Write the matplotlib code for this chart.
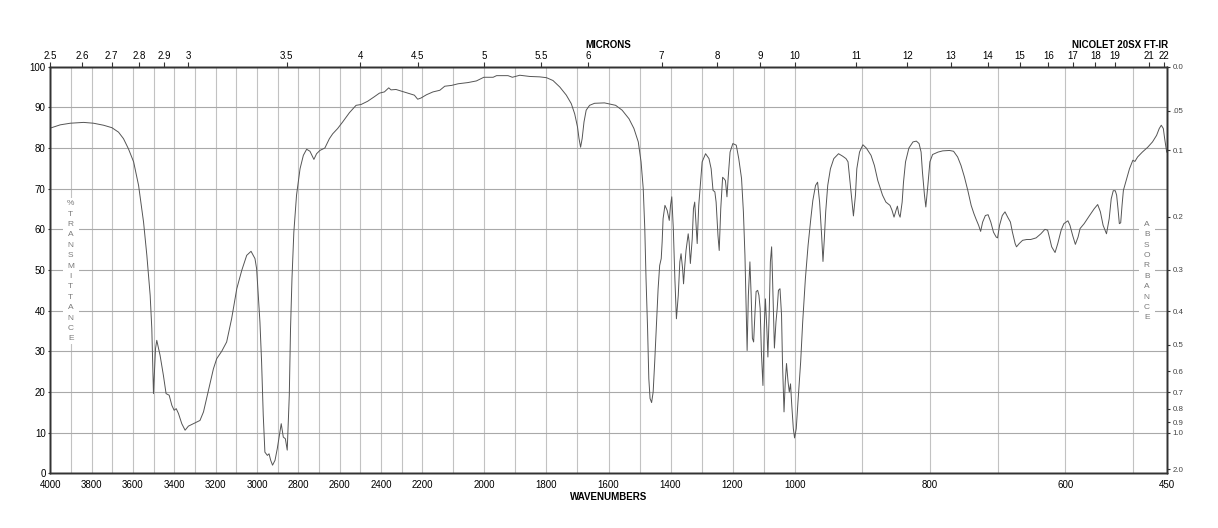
import numpy as np
import matplotlib
matplotlib.use('Agg')
import matplotlib.pyplot as plt
from matplotlib.patches import Rectangle

plt.rcParams['font.family'] = ['Liberation Sans', 'DejaVu Sans']

# ---------------- data ----------------
wavenumber = [
    4000, 3952, 3903, 3839, 3791, 3742, 3702, 3670, 3646, 3622, 3597, 3573, 3549, 3533, 3517, 3509,
    3501, 3491, 3485, 3469, 3453, 3440, 3425, 3412, 3401, 3391, 3380, 3364, 3348, 3332, 3308, 3276,
    3259, 3235, 3211, 3195, 3171, 3147, 3123, 3098, 3074, 3050, 3029, 3010, 3002, 2994, 2986, 2978,
    2970, 2962, 2950, 2942, 2934, 2925, 2913, 2902, 2889, 2883, 2873, 2863, 2854, 2844, 2838, 2831,
    2822, 2809, 2792, 2776, 2760, 2744, 2725, 2712, 2696, 2672,
    2650, 2634, 2610, 2586, 2553, 2521, 2497, 2465, 2433, 2408, 2384, 2363, 2352, 2328, 2296, 2263,
    2239, 2223, 2207, 2187, 2166, 2144, 2128, 2106, 2085, 2053, 2026, 2002, 1972, 1961, 1924, 1910,
    1886, 1854, 1822, 1800, 1779, 1757, 1736, 1720, 1709, 1700, 1695, 1690, 1685, 1679, 1672, 1661,
    1645, 1613,
    1577, 1556, 1534, 1518, 1504, 1495, 1488, 1483, 1479, 1474, 1470, 1466, 1461, 1456, 1451, 1445,
    1440, 1435, 1430, 1427, 1424, 1418, 1411, 1404, 1400, 1396, 1391, 1386, 1381, 1375, 1370, 1366,
    1361, 1358, 1354, 1350, 1343, 1340, 1336, 1330, 1326, 1322, 1317, 1314, 1309, 1303, 1298, 1287,
    1276, 1269, 1263, 1257, 1253, 1247, 1243, 1238, 1232, 1228, 1223, 1218, 1214, 1208, 1199, 1188,
    1180, 1171, 1165, 1160, 1157, 1153, 1149, 1144, 1140, 1136, 1132, 1128, 1124, 1119, 1115, 1111,
    1107, 1102, 1098, 1094, 1089, 1086, 1082, 1078, 1074, 1071, 1068, 1065, 1060, 1056, 1052, 1047,
    1042, 1039, 1034, 1030, 1026, 1021, 1017, 1013, 1009, 1004, 1000, 997.5, 995, 991, 988, 984,
    980, 976, 973, 969, 966, 963, 960, 958, 956, 954, 951, 947, 942, 935, 929, 924,
    921, 918, 915, 913, 910, 908, 904, 899, 894, 887, 882, 877,
    870, 865, 859, 856, 853, 850, 848, 846, 844, 841, 839, 836, 831, 825, 820, 816,
    813, 811, 808, 806, 803, 800, 796, 788, 781, 771, 765, 759, 754, 749, 744, 739,
    735, 732, 728, 725, 722, 718, 714, 710, 706, 702, 700, 697, 693, 689, 685, 681,
    678, 674, 672, 668, 663, 657, 651, 643, 636, 630, 626, 624, 620, 615, 611, 606,
    602, 596, 593, 589, 585, 581, 578, 572, 564, 557, 552, 548, 544, 539, 535, 532,
    529, 526, 524, 522, 520, 518, 516, 514, 510, 505, 500, 497, 493, 486, 478, 471,
    465, 461, 458, 455, 453, 450,
]
transmittance = [
    84.9, 85.7, 86.1, 86.3, 86.1, 85.6, 85.0, 83.9, 82.3, 79.8, 76.6, 70.8, 61.8, 53.6, 43.8, 35.6,
    19.6, 30.7, 32.7, 29.0, 24.1, 19.6, 19.2, 16.7, 15.5, 15.9, 14.7, 12.2, 10.6, 11.6, 12.2, 13.0,
    15.1, 20.4, 25.7, 28.2, 30.0, 32.3, 38.0, 45.4, 49.9, 53.6, 54.6, 52.8, 50.3, 43.8, 37.2, 27.4,
    14.3, 5.2, 4.4, 4.8, 3.2, 2.0, 3.2, 6.1, 10.2, 12.2, 8.9, 8.5, 5.7, 19.2, 35.6, 47.9,
    59.3, 68.4, 74.9, 78.2, 79.7, 79.2, 77.2, 78.6, 79.4, 80.0,
    82.3, 83.5, 84.8, 86.4, 88.7, 90.5, 90.7, 91.5, 92.6, 93.5, 93.8, 94.8, 94.3, 94.4, 93.9, 93.4,
    93.0, 92.0, 92.3, 93.1, 93.8, 94.2, 95.2, 95.4, 95.8, 96.1, 96.5, 97.4, 97.4, 97.8, 97.8, 97.4,
    97.9, 97.6, 97.5, 97.3, 96.6, 95.0, 93.0, 90.9, 88.4, 85.2, 82.3, 80.2, 82.3, 86.4, 89.3, 90.5,
    91.0, 91.1,
    90.5, 89.3, 87.2, 84.8, 81.5, 76.6, 70.0, 60.2, 47.9, 35.6, 23.3, 18.4, 17.4, 20.0, 27.4, 37.2,
    45.4, 51.1, 52.8, 56.9, 62.6, 65.9, 64.7, 62.2, 65.9, 68.0, 60.2, 47.9, 38.0, 43.8, 52.0, 54.0,
    50.3, 46.6, 51.1, 54.8, 58.9, 56.9, 51.6, 57.7, 65.1, 66.7, 60.2, 56.5, 65.9, 71.6, 76.6, 78.6,
    77.4, 74.9, 69.6, 69.2, 66.7, 58.5, 54.8, 65.1, 72.8, 72.5, 72.0, 68.0, 72.8, 79.0, 81.1, 80.7,
    77.4, 72.5, 64.3, 53.6, 43.8, 30.2, 43.8, 52.0, 43.8, 33.2, 32.3, 38.9, 44.7, 45.0, 43.8, 40.5,
    29.8, 21.6, 35.6, 42.9, 34.8, 28.6, 38.9, 52.0, 55.7, 47.9, 38.9, 30.8, 37.2, 40.5, 45.0, 45.4,
    38.9, 27.4, 15.1, 22.5, 27.0, 22.5, 20.0, 22.0, 16.7, 11.0, 8.7, 11.0, 17.5, 27.4, 37.2, 47.9,
    56.1, 62.6, 67.1, 70.8, 71.6, 66.7, 58.5, 52.1, 57.7, 64.3, 70.8, 74.9, 77.4, 78.6, 78.0, 77.4,
    76.6, 71.6, 66.7, 63.3, 68.4, 74.9, 79.0, 80.8, 80.0, 78.2, 75.7, 72.0,
    68.4, 66.7, 65.9, 64.7, 63.0, 64.7, 65.7, 63.8, 63.0, 66.7, 71.6, 76.6, 80.0, 81.5, 81.7, 81.1,
    79.0, 74.1, 68.4, 65.5, 70.8, 76.6, 78.4, 79.0, 79.3, 79.4, 79.2, 77.8, 75.7, 72.9, 69.6, 65.9,
    63.9, 62.6, 61.0, 59.5, 61.8, 63.4, 63.6, 61.8, 59.3, 58.1, 57.9, 61.0, 63.4, 64.3, 63.0, 61.8,
    59.3, 56.5, 55.7, 56.5, 57.3, 57.5, 57.5, 57.9, 58.9, 60.0, 59.8, 58.5, 55.7, 54.3, 56.5, 59.8,
    61.4, 62.1, 61.0, 58.5, 56.3, 58.1, 60.2, 61.4, 63.4, 65.1, 66.1, 64.3, 61.0, 58.9, 62.6, 67.5,
    69.5, 69.5, 68.4, 65.1, 61.4, 61.6, 65.9, 69.6, 72.0, 74.9, 77.0, 76.7, 77.8, 79.0, 80.2, 81.5,
    83.1, 84.8, 85.6, 84.8, 82.3, 79.0,
]

wn_ticks = [4000, 3800, 3600, 3400, 3200, 3000, 2800, 2600, 2400, 2200, 2000,
            1800, 1600, 1400, 1200, 1000, 800, 600, 450]
wn_grid = list(range(500, 4000, 100))
micron_ticks = [2.5, 2.6, 2.7, 2.8, 2.9, 3, 3.5, 4, 4.5, 5, 5.5, 6, 7, 8, 9, 10,
                11, 12, 13, 14, 15, 16, 17, 18, 19, 21, 22]
micron_labels = ['2.5', '2.6', '2.7', '2.8', '2.9', '3', '3.5', '4', '4.5', '5', '5.5', '6',
                 '7', '8', '9', '10', '11', '12', '13', '14', '15', '16', '17', '18', '19', '21', '22']
abs_ticks = [0.0, 0.05, 0.1, 0.2, 0.3, 0.4, 0.5, 0.6, 0.7, 0.8, 0.9, 1.0, 2.0]
abs_labels = ['0.0', '.05', '0.1', '0.2', '0.3', '0.4', '0.5', '0.6', '0.7', '0.8', '0.9', '1.0', '2.0']
t_ticks = list(range(0, 101, 10))


# piecewise-linear chart scale: 4000-2200, 2200-1000, 1000-450 each a third
def fwd(w):
    w = np.asarray(w, dtype=float)
    return np.where(w >= 2200, 2 + (w - 2200) / 1800.0,
                    np.where(w >= 1000, 1 + (w - 1000) / 1200.0, (w - 450) / 550.0))


def inv(u):
    u = np.asarray(u, dtype=float)
    return np.where(u >= 2, 2200 + (u - 2) * 1800.0,
                    np.where(u >= 1, 1000 + (u - 1) * 1200.0, 450 + u * 550.0))


W, H = 1218, 528
fig = plt.figure(figsize=(W / 100, H / 100), dpi=100)
L, R, T, B = 50.3, 1166.7, 66.7, 473.3
ax = fig.add_axes([L / W, 1 - B / H, (R - L) / W, (B - T) / H])

VGRID = '#c2c2c2'
HGRID = '#a9a9a9'
SPINE = '#333333'

ax.set_xscale('function', functions=(fwd, inv))
ax.set_xlim(4000, 450)
ax.set_ylim(0, 100)
ax.set_xticks(wn_ticks)
ax.set_xticklabels([str(t) for t in wn_ticks])
ax.set_xticks(wn_grid, minor=True)
ax.set_yticks(t_ticks)
ax.set_yticklabels([str(t) for t in t_ticks])
ax.grid(which='both', axis='x', color=VGRID, lw=0.8)
ax.grid(which='major', axis='y', color=HGRID, lw=0.8)
ax.tick_params(axis='x', which='both', length=0, pad=4.5, labelsize=7)
ax.tick_params(axis='y', length=1.8, pad=1.5, labelsize=7, color=SPINE)

ax.plot(wavenumber, transmittance, color='#555555', lw=0.7, zorder=3)

# top micron axis
axt = ax.twiny()
axt.set_xscale('function', functions=(fwd, inv))
axt.set_xlim(4000, 450)
axt.set_xticks([1e4 / m for m in micron_ticks])
axt.set_xticklabels(micron_labels)
axt.tick_params(axis='x', length=3.5, pad=0.5, labelsize=7, color=SPINE)

# right absorbance axis
axr = ax.twinx()
axr.set_ylim(0, 100)
axr.set_yticks([100 * 10 ** (-a) for a in abs_ticks])
axr.set_yticklabels(abs_labels)
axr.tick_params(axis='y', length=2.2, pad=1.8, labelsize=5.7, color=SPINE, labelcolor='#444444')

for a in (ax, axt, axr):
    for s in a.spines.values():
        s.set_color(SPINE)
        s.set_linewidth(1.0)

# white boxes behind the vertical axis words
ax.add_patch(Rectangle(((63 - L) / (R - L), (B - 344) / (B - T)), 16 / (R - L), 146 / (B - T),
                       transform=ax.transAxes, facecolor='white', edgecolor='none', zorder=1.8))
ax.add_patch(Rectangle(((1139 - L) / (R - L), (B - 324) / (B - T)), 16 / (R - L), 106 / (B - T),
                       transform=ax.transAxes, facecolor='white', edgecolor='none', zorder=1.8))

for i, ch in enumerate('%TRANSMITTANCE'):
    fig.text(70.7 / W, 1 - (203.7 + i * 10.4) / H, ch, ha='center', va='center',
             fontsize=6, color='#7a7a7a')
for i, ch in enumerate('ABSORBANCE'):
    fig.text(1146.7 / W, 1 - (224.3 + i * 10.4) / H, ch, ha='center', va='center',
             fontsize=6, color='#7a7a7a')

fig.text(608.3 / W, 1 - 45 / H, 'MICRONS', ha='center', va='center', fontsize=7, fontweight='bold')
fig.text(1120.5 / W, 1 - 45 / H, 'NICOLET 20SX FT-IR', ha='center', va='center', fontsize=7,
         fontweight='bold')
fig.text(608.3 / W, 1 - 496.7 / H, 'WAVENUMBERS', ha='center', va='center', fontsize=7,
         fontweight='bold')

fig.savefig('out.png', dpi=100)
